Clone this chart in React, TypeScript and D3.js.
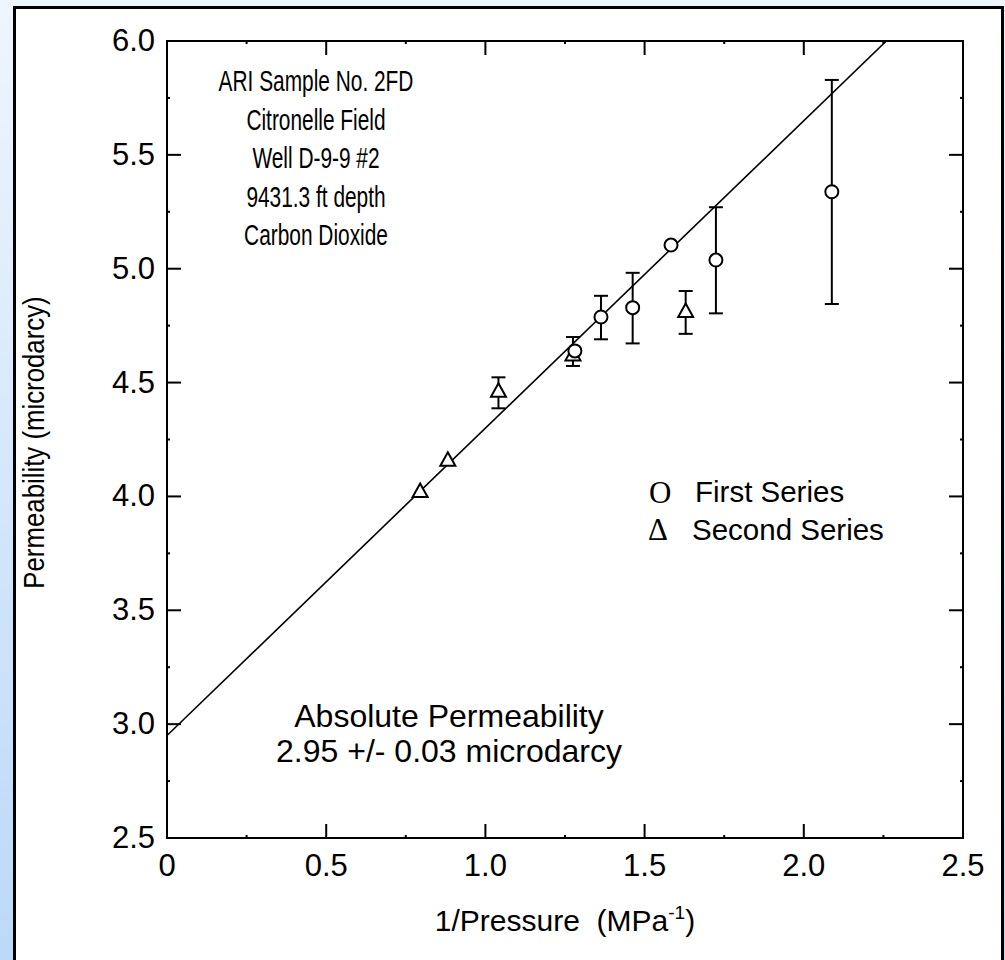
import React from "react";
import * as d3 from "d3";

const W = 1005;
const H = 960;

// First series (circles)
const firstX = [1.281, 1.363, 1.4625, 1.583, 1.724, 2.088];
const firstY = [4.639, 4.788, 4.829, 5.104, 5.038, 5.338];
const firstLo = [null, 4.69, 4.672, null, 4.804, 4.845];
const firstHi = [null, 4.881, 4.982, null, 5.27, 5.829];

// Second series (triangles)
const secondX = [0.795, 0.882, 1.041, 1.275, 1.629];
const secondY = [4.02, 4.157, 4.46, 4.62, 4.81];
const secondLo = [null, null, 4.387, 4.573, 4.714];
const secondHi = [null, null, 4.523, 4.70, 4.902];

const fitIntercept = 2.95;
const fitSlope = 1.35;

const xMajor = [0, 0.5, 1.0, 1.5, 2.0, 2.5];
const xMajorLabels = ["0", "0.5", "1.0", "1.5", "2.0", "2.5"];
const xMinor = [0.25, 0.75, 1.25, 1.75, 2.25];
const yMajor = [2.5, 3.0, 3.5, 4.0, 4.5, 5.0, 5.5, 6.0];
const yMajorLabels = ["2.5", "3.0", "3.5", "4.0", "4.5", "5.0", "5.5", "6.0"];
const yMinor = [2.75, 3.25, 3.75, 4.25, 4.75, 5.25, 5.75];

const infoLines = [
  "ARI Sample No. 2FD",
  "Citronelle Field",
  "Well D-9-9 #2",
  "9431.3 ft depth",
  "Carbon Dioxide",
];
const resultLines = ["Absolute Permeability", "2.95 +/- 0.03 microdarcy"];
const legendLabels = ["First Series", "Second Series"];

const FONT = "'Liberation Sans', Arial, Helvetica, sans-serif";
const SERIF = "'Liberation Serif', 'Times New Roman', serif";

export default function App() {
  const x = d3.scaleLinear().domain([0, 2.5]).range([167, 963]);
  const y = d3.scaleLinear().domain([2.5, 6.0]).range([838, 41]);
  const [x0, x1] = x.range();
  const [y0, y1] = y.range();

  const fitLine = d3
    .line<number>()
    .x((d) => x(d))
    .y((d) => y(fitIntercept + fitSlope * d));
  const xEnd = (6.0 - fitIntercept) / fitSlope;
  const fitPts = [0, xEnd];

  const tri = (cx: number, cy: number, s: number) => {
    const h = s * 0.9;
    return `M${cx},${cy - h * 0.62} L${cx + s / 2},${cy + h * 0.38} L${cx - s / 2},${cy + h * 0.38} Z`;
  };

  const errBar = (xv: number, lo: number | null, hi: number | null, key: string) => {
    if (lo == null || hi == null) return null;
    const px = x(xv);
    return (
      <g key={key} stroke="#000" strokeWidth={2}>
        <line x1={px} x2={px} y1={y(lo)} y2={y(hi)} />
        <line x1={px - 7} x2={px + 7} y1={y(lo)} y2={y(lo)} />
        <line x1={px - 7} x2={px + 7} y1={y(hi)} y2={y(hi)} />
      </g>
    );
  };

  return (
    <svg
      width={W}
      height={H}
      style={{ position: "absolute", left: 0, top: 0, display: "block" }}
      fontFamily={FONT}
    >
      <defs>
        <linearGradient id="bg" x1="0" y1="0" x2="0" y2="1">
          <stop offset="0" stopColor="#eff5fd" />
          <stop offset="1" stopColor="#bbd9f8" />
        </linearGradient>
        <clipPath id="plotClip">
          <rect x={x0} y={y1} width={x1 - x0} height={y0 - y1} />
        </clipPath>
      </defs>
      <rect x={0} y={0} width={W} height={H} fill="url(#bg)" />
      <rect x={14.5} y={7.5} width={988} height={H + 10} fill="#fff" stroke="#000" strokeWidth={3} />

      {/* fit line */}
      <path
        d={fitLine(fitPts) || ""}
        fill="none"
        stroke="#000"
        strokeWidth={1.6}
        clipPath="url(#plotClip)"
      />

      {/* error bars */}
      {secondX.map((xv, i) => errBar(xv, secondLo[i], secondHi[i], "se" + i))}
      {firstX.map((xv, i) => errBar(xv, firstLo[i], firstHi[i], "fe" + i))}

      {/* markers */}
      {secondX.map((xv, i) => (
        <path key={"t" + i} d={tri(x(xv), y(secondY[i]), 15)} fill="#fff" stroke="#000" strokeWidth={2} />
      ))}
      {firstX.map((xv, i) => (
        <circle key={"c" + i} cx={x(xv)} cy={y(firstY[i])} r={6.5} fill="#fff" stroke="#000" strokeWidth={2} />
      ))}

      {/* axes frame */}
      <rect x={x0} y={y1} width={x1 - x0} height={y0 - y1} fill="none" stroke="#000" strokeWidth={2} />

      {/* ticks */}
      <g stroke="#000" strokeWidth={2}>
        {xMajor.map((v, i) => (
          <g key={"xm" + i}>
            <line x1={x(v)} x2={x(v)} y1={y0} y2={y0 - 14} />
            <line x1={x(v)} x2={x(v)} y1={y1} y2={y1 + 14} />
          </g>
        ))}
        {xMinor.map((v, i) => (
          <g key={"xn" + i}>
            <line x1={x(v)} x2={x(v)} y1={y0} y2={y0 - 3} />
            <line x1={x(v)} x2={x(v)} y1={y1} y2={y1 + 3} />
          </g>
        ))}
        {yMajor.map((v, i) => (
          <g key={"ym" + i}>
            <line x1={x0} x2={x0 + 14} y1={y(v)} y2={y(v)} />
            <line x1={x1} x2={x1 - 14} y1={y(v)} y2={y(v)} />
          </g>
        ))}
        {yMinor.map((v, i) => (
          <g key={"yn" + i}>
            <line x1={x0} x2={x0 + 3} y1={y(v)} y2={y(v)} />
            <line x1={x1} x2={x1 - 3} y1={y(v)} y2={y(v)} />
          </g>
        ))}
      </g>

      {/* tick labels */}
      <g fontSize={31} fill="#000">
        {xMajor.map((v, i) => (
          <text key={"xl" + i} x={x(v)} y={y0 + 38} textAnchor="middle">
            {xMajorLabels[i]}
          </text>
        ))}
        {yMajor.map((v, i) => (
          <text key={"yl" + i} x={x0 - 12} y={y(v) + 10} textAnchor="end">
            {yMajorLabels[i]}
          </text>
        ))}
      </g>

      {/* axis titles */}
      <text x={565} y={931} textAnchor="middle" fontSize={30}>
        {"1/Pressure\u00A0\u00A0(MPa"}
        <tspan fontSize={19} dy={-12}>-1</tspan>
        <tspan dy={12}>)</tspan>
      </text>
      <text
        transform={`translate(44, ${(y0 + y1) / 2 + 3}) rotate(-90) scale(0.86, 1)`}
        textAnchor="middle"
        fontSize={30}
      >
        Permeability (microdarcy)
      </text>

      {/* info text */}
      <g fontSize={29} textAnchor="middle">
        {infoLines.map((t, i) => (
          <text key={"in" + i} transform={`translate(316, ${91 + i * 38.5}) scale(0.72, 1)`}>
            {t}
          </text>
        ))}
      </g>
      <g fontSize={32} textAnchor="middle">
        {resultLines.map((t, i) => (
          <text key={"rs" + i} x={449} y={727 + i * 35}>
            {t}
          </text>
        ))}
      </g>

      {/* legend */}
      <g fontSize={29.5}>
        <text x={649} y={503} fontSize={31} fontFamily={SERIF}>O</text>
        <text x={695} y={502}>{legendLabels[0]}</text>
        <text x={648} y={540} fontSize={31} fontFamily={SERIF}>Δ</text>
        <text x={692} y={540}>{legendLabels[1]}</text>
      </g>
    </svg>
  );
}
